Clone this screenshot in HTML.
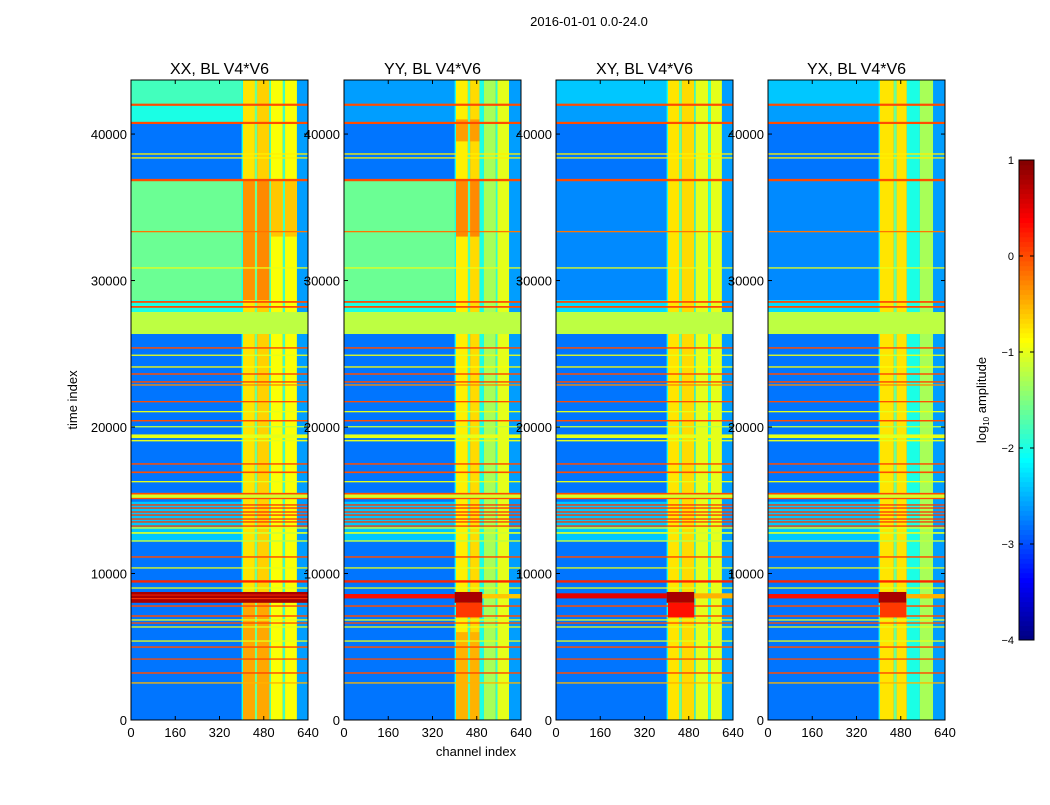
<!DOCTYPE html>
<html><head><meta charset="utf-8">
<style>
html,body{margin:0;padding:0;background:#fff;}
svg text{font-family:"Liberation Sans",sans-serif;fill:#000;}
</style></head>
<body>
<svg id="fig" width="1050" height="800" xmlns="http://www.w3.org/2000/svg">
<rect width="1050" height="800" fill="#fff"/>
<text x="589" y="26" font-size="13" text-anchor="middle">2016-01-01 0.0-24.0</text>
<g id="panels"></g>
<text x="77" y="400" font-size="13" text-anchor="middle" transform="rotate(-90 77 400)">time index</text>
<text x="476" y="756" font-size="13" text-anchor="middle">channel index</text>
<g id="cbar"></g>
<text x="986" y="400" font-size="13" text-anchor="middle" transform="rotate(-90 986 400)">log<tspan font-size="8" dy="3">10</tspan><tspan dy="-3"> amplitude</tspan></text>
</svg>
<script>
const panelTitles = ["XX, BL V4*V6","YY, BL V4*V6","XY, BL V4*V6","YX, BL V4*V6"];
const xTicks = [0,160,320,480,640];
const yTicks = [0,10000,20000,30000,40000];
const cbTicks = [1,0,-1,-2,-3,-4];
const tMax = 43690, chMax = 640, vMin = -4, vMax = 1;
// background segments per panel: [tStart, tEnd, log10 value]
const bgXX = [[0,26350,-2.8],[12200,14900,-2.4],[26350,27850,-1.2],[27850,28670,-2.0],[28670,36860,-1.6],[36860,40760,-2.8],[40760,42000,-2.0],[42000,43690,-1.8]];
const bgYY = [[0,26350,-2.8],[12200,14900,-2.4],[26350,27850,-1.2],[27850,28670,-2.0],[28670,36860,-1.6],[36860,40760,-2.8],[40760,42000,-2.6],[42000,43690,-2.6]];
const bgXY = [[0,26350,-2.8],[12200,14900,-2.4],[26350,27850,-1.2],[27850,28670,-2.3],[28670,36860,-2.7],[36860,40760,-2.8],[40760,42000,-2.6],[42000,43690,-2.4]];
const bgYX = [[0,26350,-2.8],[12200,14900,-2.4],[26350,27850,-1.2],[27850,28670,-2.3],[28670,36860,-2.7],[36860,40760,-2.8],[40760,42000,-2.6],[42000,43690,-2.4]];
// channel bands: [chStart, chEnd, tStart, tEnd, value]
const chXX = [[400,405,0,43690,-2.0],[405,448,0,43690,-0.75],[448,456,0,43690,-1.6],[456,500,0,43690,-0.65],[500,506,0,43690,-1.8],[506,549,0,43690,-0.9],[549,557,0,43690,-1.8],[557,600,0,43690,-0.9],[600,640,0,43690,-2.6],[405,448,28670,36860,-0.35],[456,500,28670,36860,-0.3],[506,549,33000,36860,-0.6],[557,600,33000,36860,-0.6],[405,448,0,8000,-0.45],[456,500,0,8000,-0.45]];
const chYY = [[400,405,0,43690,-2.0],[405,448,0,43690,-0.8],[448,456,0,43690,-1.8],[456,490,0,43690,-0.7],[490,506,0,43690,-2.0],[506,549,0,43690,-1.3],[549,555,0,43690,-1.9],[555,597,0,43690,-1.0],[597,640,0,43690,-2.6],[405,448,33000,36860,-0.3],[456,490,33000,36860,-0.3],[405,448,39500,41000,-0.4],[456,490,39500,41000,-0.4],[405,448,0,6000,-0.5],[456,490,0,6000,-0.5]];
const chXY = [[400,405,0,43690,-2.0],[405,445,0,43690,-0.75],[445,455,0,43690,-1.6],[455,500,0,43690,-0.7],[500,505,0,43690,-1.9],[505,550,0,43690,-1.0],[550,560,0,43690,-1.9],[560,600,0,43690,-1.0],[600,640,0,43690,-2.6]];
const chYX = [[400,405,0,43690,-2.0],[405,455,0,43690,-0.75],[455,465,0,43690,-1.6],[465,502,0,43690,-0.75],[502,549,0,43690,-2.0],[549,597,0,43690,-1.3],[597,640,0,43690,-2.6]];
// horizontal lines: [t, thickness, value]
const hLines = [[42000,150,0.0],[40760,150,0.0],[38640,90,-0.8],[38370,90,-0.8],[36860,160,0.0],[33340,90,-0.2],[30860,90,-1.0],[28540,120,0.0],[28200,120,0.0],[25400,100,0.0],[24900,90,-1.0],[24100,90,-0.9],[23620,100,0.0],[23080,100,0.0],[22870,90,-0.3],[21730,90,0.0],[21050,90,-1.0],[20430,100,0.0],[20020,90,-1.2],[19370,250,-1.0],[19070,100,-1.0],[17480,100,0.0],[16910,110,0.0],[16270,90,-1.0],[15300,400,-1.1],[15450,110,0.0],[15120,90,0.0],[14680,90,0.1],[14470,90,0.1],[14200,90,0.1],[13990,90,0.1],[13720,90,0.1],[13520,90,0.1],[13240,90,0.1],[13110,90,-1.0],[12770,120,-1.1],[12220,100,-1.2],[11130,100,0.0],[10380,90,-1.0],[9460,160,0.2],[9010,90,-1.0],[7780,100,0.0],[7100,100,0.0],[6830,90,-1.0],[6620,90,0.0],[6350,90,-1.0],[5390,90,-1.0],[4980,100,0.0],[4160,90,0.0],[3210,100,0.0],[2530,90,-0.5]];
// strong band: [tStart, tEnd, chStart, chEnd, value] per panel
const redXX = [[8000,8740,0,640,0.8],[8250,8320,0,640,0.1],[8500,8560,0,640,0.2]];
const redYY = [[8300,8600,0,400,0.3],[8000,8740,400,500,0.8],[8300,8600,500,640,-0.6],[7000,8000,405,500,0.1]];
const redXY = [[8300,8650,0,400,0.5],[8000,8740,400,500,0.8],[8300,8650,500,640,-0.5],[7000,8000,405,500,0.3]];
const redYX = [[8300,8600,0,400,0.3],[8000,8740,400,500,0.8],[8300,8600,500,640,-0.5],[7000,8000,405,500,0.1]];

const panelX = [131,344,556,768], PW = 177, PT = 80, PB = 720;
const bgs=[bgXX,bgYY,bgXY,bgYX], chs=[chXX,chYY,chXY,chYX], reds=[redXX,redYY,redXY,redYX];
function jet(v){
  let x=(v-vMin)/(vMax-vMin); x=Math.max(0,Math.min(1,x));
  const c=t=>Math.round(255*Math.max(0,Math.min(1,1.5-Math.abs(4*x-t))));
  return `rgb(${c(3)},${c(2)},${c(1)})`;
}
const NS="http://www.w3.org/2000/svg";
function mk(tag,attrs,parent){const e=document.createElementNS(NS,tag);for(const k in attrs)e.setAttribute(k,attrs[k]);parent.appendChild(e);return e;}
const root=document.getElementById('panels');
panelX.forEach((x0,i)=>{
  const xs=ch=>x0+ch/chMax*PW, ys=t=>PB-t/tMax*(PB-PT);
  const g=mk('g',{},root);
  
  
  const cell=(c0,c1,t0,t1,v,name)=>{const r=mk('rect',{x:xs(c0),y:ys(t1),width:xs(c1)-xs(c0),height:Math.max(ys(t0)-ys(t1),0.8),fill:jet(v)},g);
    
    };
  bgs[i].forEach(s=>{ if(s[2]!==-1.2) cell(0,640,s[0],s[1],s[2],'background-segment'); });
  chs[i].forEach(b=>cell(b[0],b[1],b[2],b[3],b[4],'channel-band'));
  bgs[i].forEach(s=>{ if(s[2]===-1.2) cell(0,640,s[0],s[1],s[2],'flagged-block'); });
  hLines.forEach(l=>cell(0,640,l[0]-l[1]/2,l[0]+l[1]/2,l[2],'time-line'));
  reds[i].forEach(r=>cell(r[2],r[3],r[0],r[1],r[4],'strong-band'));
  const fr=mk('rect',{x:x0,y:PT,width:PW,height:PB-PT,fill:'none',stroke:'#000','stroke-width':1},g);
  
  
  const t=mk('text',{x:x0+PW/2,y:74,'font-size':16,'text-anchor':'middle'},g); t.textContent=panelTitles[i];
  
  
  xTicks.forEach(v=>{const X=xs(v);
    mk('line',{x1:X,x2:X,y1:PB,y2:PB-4,stroke:'#000'},g);mk('line',{x1:X,x2:X,y1:PT,y2:PT+4,stroke:'#000'},g);
    const tx=mk('text',{x:X,y:737,'font-size':13,'text-anchor':'middle'},g);tx.textContent=v;
    
    });
  yTicks.forEach(v=>{const Y=ys(v);
    mk('line',{x1:x0,x2:x0+4,y1:Y,y2:Y,stroke:'#000'},g);mk('line',{x1:x0+PW,x2:x0+PW-4,y1:Y,y2:Y,stroke:'#000'},g);
    const tx=mk('text',{x:x0-4,y:Y+5,'font-size':13,'text-anchor':'end'},g);tx.textContent=v;
    
    });
});
const cb=document.getElementById('cbar');
const CX=1019,CW=15,CT=160,CBB=640;
const cy=v=>CT+(vMax-v)/(vMax-vMin)*(CBB-CT);
for(let k=0;k<100;k++){const v0=vMin+k*(vMax-vMin)/100,v1=vMin+(k+1)*(vMax-vMin)/100;
  const r=mk('rect',{x:CX,y:cy(v1),width:CW,height:cy(v0)-cy(v1)+0.5,fill:jet((v0+v1)/2)},cb);
  
  }
mk('rect',{x:CX,y:CT,width:CW,height:CBB-CT,fill:'none',stroke:'#000'},cb);
cbTicks.forEach(v=>{const Y=cy(v);
  mk('line',{x1:CX,x2:CX+4,y1:Y,y2:Y,stroke:'#000'},cb);mk('line',{x1:CX+CW,x2:CX+CW-4,y1:Y,y2:Y,stroke:'#000'},cb);
  const tx=mk('text',{x:CX-5,y:Y+4,'font-size':11,'text-anchor':'end'},cb);tx.textContent=(v<0?'\u2212'+(-v):v);
  
  });
</script>
</body></html>
